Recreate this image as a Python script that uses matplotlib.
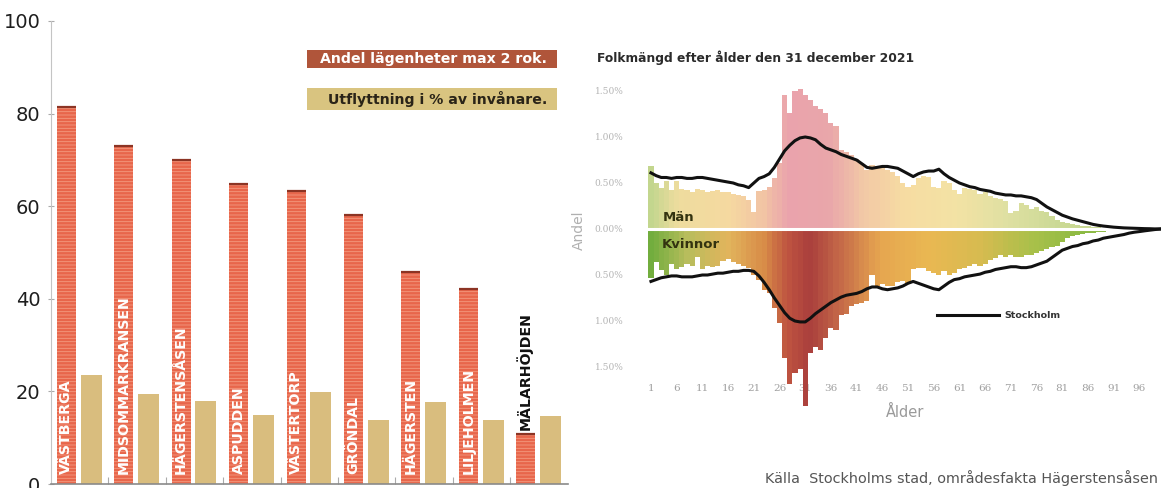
import matplotlib
matplotlib.use("Agg")
import matplotlib.pyplot as plt
import numpy as np
from matplotlib.colors import LinearSegmentedColormap
from matplotlib.patches import Rectangle
from matplotlib.lines import Line2D

# ---------------- data: left chart ----------------
areas = ["VÄSTBERGA", "MIDSOMMARKRANSEN", "HÄGERSTENSÅSEN", "ASPUDDEN",
         "VÄSTERTORP", "GRÖNDAL", "HÄGERSTEN", "LILJEHOLMEN", "MÄLARHÖJDEN"]
small_apts = [81.5, 72.9, 69.9, 64.8, 63.2, 58.0, 45.8, 42.1, 10.7]
moving_out = [23.6, 19.4, 18.0, 14.8, 19.8, 13.8, 17.8, 13.8, 14.7]
left_yticks = [0, 20, 40, 60, 80, 100]
legend_red = "Andel lägenheter max 2 rok."
legend_tan = "Utflyttning i % av invånare."

# ---------------- data: right chart (percent of population) ----------------
ages = list(range(1, 101))
men = [0.68, 0.50, 0.45, 0.52, 0.42, 0.52, 0.44, 0.42, 0.40, 0.44,
       0.42, 0.40, 0.41, 0.42, 0.40, 0.40, 0.38, 0.37, 0.36, 0.32,
       0.18, 0.41, 0.42, 0.46, 0.55, 0.72, 1.46, 1.26, 1.50, 1.52,
       1.46, 1.40, 1.34, 1.30, 1.26, 1.15, 1.12, 0.86, 0.84, 0.80,
       0.76, 0.72, 0.64, 0.70, 0.68, 0.66, 0.64, 0.62, 0.58, 0.50,
       0.46, 0.48, 0.55, 0.58, 0.56, 0.46, 0.45, 0.52, 0.50, 0.42,
       0.38, 0.45, 0.44, 0.42, 0.38, 0.40, 0.36, 0.34, 0.33, 0.30,
       0.17, 0.20, 0.28, 0.26, 0.22, 0.24, 0.20, 0.18, 0.14, 0.10,
       0.08, 0.06, 0.05, 0.04, 0.035, 0.03, 0.025, 0.02, 0.016, 0.013,
       0.011, 0.009, 0.007, 0.006, 0.005, 0.004, 0.003, 0.002, 0.001, 0.001]
women = [-0.53, -0.36, -0.45, -0.50, -0.38, -0.44, -0.41, -0.38, -0.40, -0.30,
         -0.44, -0.40, -0.41, -0.40, -0.35, -0.33, -0.36, -0.38, -0.40, -0.42,
         -0.50, -0.55, -0.66, -0.70, -0.86, -1.02, -1.40, -1.68, -1.56, -1.52,
         -1.92, -1.35, -1.28, -1.32, -1.18, -1.08, -1.10, -0.94, -0.92, -0.84,
         -0.82, -0.80, -0.78, -0.50, -0.62, -0.60, -0.62, -0.62, -0.58, -0.56,
         -0.60, -0.44, -0.42, -0.42, -0.46, -0.48, -0.50, -0.46, -0.50, -0.48,
         -0.44, -0.42, -0.40, -0.38, -0.40, -0.38, -0.34, -0.32, -0.28, -0.30,
         -0.28, -0.30, -0.30, -0.28, -0.28, -0.26, -0.24, -0.22, -0.20, -0.18,
         -0.14, -0.10, -0.08, -0.06, -0.05, -0.045, -0.04, -0.035, -0.03, -0.025,
         -0.02, -0.018, -0.015, -0.012, -0.01, -0.008, -0.006, -0.004, -0.002, -0.001]
sthlm_men = [0.61, 0.58, 0.56, 0.56, 0.55, 0.56, 0.56, 0.55, 0.55, 0.56,
             0.56, 0.55, 0.54, 0.53, 0.52, 0.51, 0.50, 0.48, 0.47, 0.45,
             0.50, 0.55, 0.57, 0.60, 0.67, 0.76, 0.85, 0.91, 0.96, 0.99,
             1.00, 0.99, 0.97, 0.92, 0.88, 0.86, 0.84, 0.81, 0.79, 0.77,
             0.75, 0.71, 0.67, 0.66, 0.67, 0.68, 0.68, 0.67, 0.66, 0.63,
             0.60, 0.57, 0.60, 0.62, 0.63, 0.63, 0.65, 0.60, 0.56, 0.53,
             0.50, 0.48, 0.46, 0.45, 0.43, 0.42, 0.41, 0.39, 0.38, 0.37,
             0.37, 0.36, 0.36, 0.35, 0.34, 0.32, 0.28, 0.24, 0.21, 0.18,
             0.15, 0.13, 0.11, 0.095, 0.08, 0.065, 0.05, 0.04, 0.032, 0.026,
             0.02, 0.016, 0.012, 0.01, 0.008, 0.006, 0.004, 0.003, 0.001, 0.0]
sthlm_women = [-0.57, -0.55, -0.53, -0.52, -0.51, -0.51, -0.52, -0.52, -0.52, -0.51,
               -0.50, -0.50, -0.49, -0.48, -0.48, -0.47, -0.46, -0.46, -0.45, -0.45,
               -0.46, -0.51, -0.58, -0.66, -0.75, -0.83, -0.91, -0.97, -1.00, -1.01,
               -1.01, -0.97, -0.92, -0.88, -0.84, -0.80, -0.77, -0.74, -0.72, -0.71,
               -0.70, -0.68, -0.65, -0.63, -0.63, -0.65, -0.66, -0.65, -0.64, -0.62,
               -0.59, -0.57, -0.59, -0.61, -0.63, -0.65, -0.66, -0.62, -0.58, -0.55,
               -0.54, -0.52, -0.51, -0.50, -0.49, -0.47, -0.46, -0.44, -0.43, -0.42,
               -0.41, -0.41, -0.42, -0.42, -0.41, -0.39, -0.37, -0.35, -0.31, -0.27,
               -0.23, -0.21, -0.19, -0.18, -0.16, -0.15, -0.13, -0.12, -0.10, -0.09,
               -0.08, -0.07, -0.06, -0.045, -0.035, -0.028, -0.02, -0.013, -0.006, 0.0]
age_ticks = list(range(1, 97, 5))
pct_ticks = [-1.5, -1.0, -0.5, 0.0, 0.5, 1.0, 1.5]

# ---------------- styles ----------------
RED = "#e8664b"
RED_STRIPE = "#f39a80"
RED_TOP = "#8c3424"
TAN = "#d9bd7e"

men_cmap = LinearSegmentedColormap.from_list("men", [
    (0.00, "#c3d68e"), (0.05, "#eedc9e"), (0.15, "#f5d9a0"), (0.22, "#f2c4a4"),
    (0.27, "#eaa3ac"), (0.35, "#e9a6aa"), (0.42, "#f2c9a6"), (0.50, "#f6dca2"),
    (0.60, "#f3e2a4"), (0.70, "#dfe0a2"), (0.80, "#cbd995"), (1.00, "#c3d68e")])
women_cmap = LinearSegmentedColormap.from_list("women", [
    (0.00, "#72ad3e"), (0.07, "#b8bd5c"), (0.15, "#e2b45c"), (0.22, "#d88c48"),
    (0.27, "#bd5240"), (0.31, "#a93e3c"), (0.37, "#c46848"), (0.45, "#e6a650"),
    (0.55, "#e9b852"), (0.65, "#d6bb50"), (0.75, "#a9c04a"), (0.85, "#8cba42"),
    (1.00, "#90c050")])

plt.rcParams["font.family"] = ["DejaVu Sans"]
plt.rcParams["hatch.linewidth"] = 0.6
fig = plt.figure(figsize=(11.61, 4.88), dpi=100)

# ================= left chart =================
axL = fig.add_axes([50.9 / 1161, 4 / 488, 516.8 / 1161, 463 / 488])
n = len(areas)
x = np.arange(n)
red_c = x + 0.27
tan_c = x + 0.70
axL.bar(red_c, small_apts, width=0.33, color=RED, edgecolor=RED_STRIPE,
        linewidth=0, hatch="-----", zorder=2)
axL.hlines(small_apts, red_c - 0.165, red_c + 0.165, color=RED_TOP, lw=1.6, zorder=3)
axL.bar(tan_c, moving_out, width=0.365, color=TAN, linewidth=0, zorder=2)
for xc, v, name in zip(red_c, small_apts, areas):
    if v > 30:
        axL.text(xc, 2.2, name, rotation=90, ha="center", va="bottom",
                 color="white", fontsize=10.2, fontweight="bold", zorder=4)
    else:
        axL.text(xc - 0.03, v + 1.0, name, rotation=90, ha="center", va="bottom",
                 color="#111111", fontsize=10.2, fontweight="bold", zorder=4)
axL.set_xlim(0, n)
axL.set_ylim(0, 100)
axL.set_yticks(left_yticks)
axL.set_yticklabels([str(t) for t in left_yticks])
axL.tick_params(axis="y", labelsize=14, labelcolor="#1e1e1e", length=5,
                direction="inout", color="#aaaaaa", pad=5)
axL.set_xticks(np.arange(1, n))
axL.set_xticklabels([])
axL.tick_params(axis="x", direction="in", length=5, color="#aaaaaa")
for s in ["top", "right"]:
    axL.spines[s].set_visible(False)
axL.spines["left"].set_color("#c4c4c4")
axL.spines["bottom"].set_color("#8a8a8a")
axL.spines["bottom"].set_linewidth(1.2)

# legend boxes
axL.add_patch(Rectangle((0.4955, 0.8985), 0.4835, 0.039, transform=axL.transAxes,
                        facecolor="#b0553a", edgecolor="none", zorder=5))
axL.text(0.74, 0.918, legend_red, transform=axL.transAxes, ha="center", va="center",
         color="white", fontsize=10.2, fontweight="bold", zorder=6)
axL.add_patch(Rectangle((0.4955, 0.808), 0.4835, 0.047, transform=axL.transAxes,
                        facecolor="#d9c480", edgecolor="none", zorder=5))
axL.text(0.748, 0.831, legend_tan, transform=axL.transAxes, ha="center", va="center",
         color="#2a2418", fontsize=10.2, fontweight="bold", zorder=6)

# ================= right chart =================
y_top, y_bot = 1.6, -1.62
px_top = 229 - y_top * 92
px_bot = 229 - y_bot * 92
x0, x1 = 0.5, 100.2
axR = fig.add_axes([648.4 / 1161, (488 - px_bot) / 488,
                    (1161 - 648.4) / 1161, (px_bot - px_top) / 488])
norm_ages = (np.array(ages) - 1) / 99.0
axR.bar(ages, men, width=1.0, color=men_cmap(norm_ages), linewidth=0,
        zorder=2, clip_on=False)
axR.bar(ages, women, width=1.0, color=women_cmap(norm_ages), linewidth=0,
        zorder=2, clip_on=False)
axR.axhline(0, color="white", lw=2.2, zorder=3)
axR.plot(ages, sthlm_men, color="#111111", lw=2.2, zorder=4, solid_joinstyle="round")
axR.plot(ages, sthlm_women, color="#111111", lw=2.2, zorder=4, solid_joinstyle="round")

axR.set_xlim(x0, x1)
axR.set_ylim(y_bot, y_top)
axR.set_xticks(age_ticks)
axR.set_xticklabels([str(a) for a in age_ticks], family="DejaVu Serif")
axR.tick_params(axis="x", length=0, pad=4, labelsize=7.5, labelcolor="#a0a0a0")
axR.set_yticks(pct_ticks)
axR.set_yticklabels(["%.2f%%" % abs(t) for t in pct_ticks], family="DejaVu Serif")
axR.tick_params(axis="y", length=0, pad=18, labelsize=6.5, labelcolor="#b4b4b4")
for s in axR.spines.values():
    s.set_visible(False)
axR.set_xlabel("Ålder", color="#9a9a9a", fontsize=10.5, labelpad=9)
axR.set_ylabel("Andel", color="#b0b0b0", fontsize=10, labelpad=6)

axR.text(3.2, 0.12, "Män", color="#333310", fontsize=9.5, fontweight="bold",
         va="center", ha="left", zorder=5)
axR.text(3.0, -0.165, "Kvinnor", color="#333310", fontsize=9.5, fontweight="bold",
         va="center", ha="left", zorder=5)

handle = Line2D([], [], color="#111111", lw=2.2)
axR.legend([handle], ["Stockholm"], loc="center left",
           bbox_to_anchor=(0.563, 0.21), frameon=False, handlelength=6.6,
           handletextpad=0.5, borderpad=0, borderaxespad=0,
           prop={"size": 6.8, "weight": "bold"}, labelcolor="#333333")

fig.text(597 / 1161, 1 - 58 / 488, "Folkmängd efter ålder den 31 december 2021",
         fontsize=8.8, fontweight="bold", color="#2b2b2b", ha="left", va="center")
fig.text(0.997, 1 - 478 / 488, "Källa  Stockholms stad, områdesfakta Hägerstensåsen",
         fontsize=10.4, color="#555555", ha="right", va="center")

fig.savefig("out.png", dpi=100)
